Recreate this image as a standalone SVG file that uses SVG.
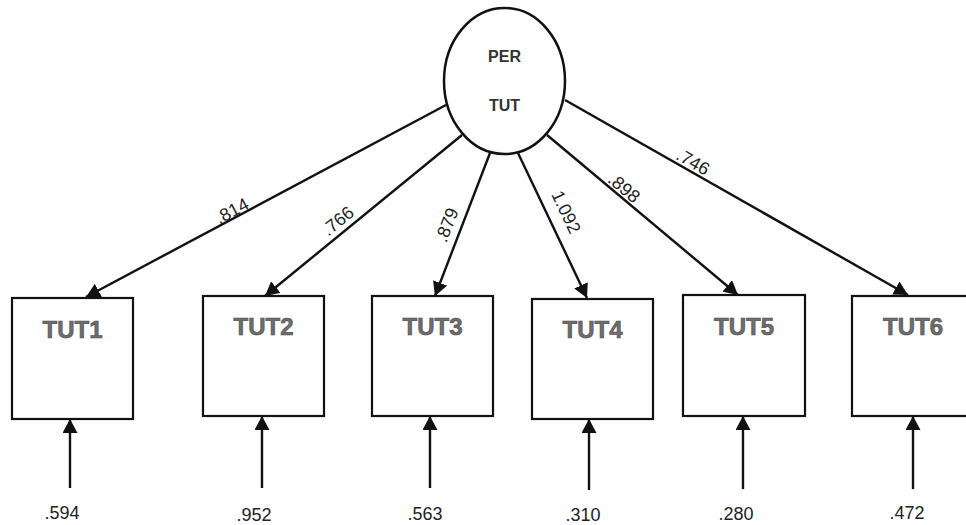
<svg xmlns="http://www.w3.org/2000/svg" width="966" height="525" viewBox="0 0 966 525">
<style>
.box{fill:#fff;stroke:#111;stroke-width:2.2}
.lat{fill:#fff;stroke:#111;stroke-width:2.5}
.lbl{font-family:"Liberation Sans",Arial,sans-serif;font-weight:bold;font-size:24px;fill:#6e6e6e;stroke:#4a4a4a;stroke-width:0.6;text-anchor:middle}
.latl{font-family:"Liberation Sans",Arial,sans-serif;font-weight:bold;font-size:16px;fill:#333;text-anchor:middle}
.num{font-family:"Liberation Sans",Arial,sans-serif;font-size:18px;fill:#222;text-anchor:middle}
.edge{stroke:#111;stroke-width:2.4;fill:none;marker-end:url(#ah)}
</style>
<defs>
<marker id="ah" markerUnits="userSpaceOnUse" markerWidth="15" markerHeight="15" refX="14" refY="7.5" orient="auto">
<path d="M0,0 L14,7.5 L0,15 Z" fill="#111"/>
</marker>
</defs>
<rect width="966" height="525" fill="#fff"/>
<g id="connectors">
<line class="edge" x1="446" y1="105" x2="86" y2="297"/>
<line class="edge" x1="462" y1="135" x2="265" y2="296"/>
<line class="edge" x1="490" y1="153" x2="435" y2="296"/>
<line class="edge" x1="518" y1="153" x2="587" y2="298"/>
<line class="edge" x1="547" y1="135" x2="738" y2="295"/>
<line class="edge" x1="565" y1="100" x2="908" y2="295"/>
<line class="edge" x1="70" y1="488" x2="70" y2="419"/>
<line class="edge" x1="262" y1="488" x2="262" y2="416"/>
<line class="edge" x1="430" y1="488" x2="430" y2="416"/>
<line class="edge" x1="589" y1="490" x2="589" y2="419"/>
<line class="edge" x1="743" y1="489" x2="743" y2="416"/>
<line class="edge" x1="913" y1="489" x2="913" y2="416"/>
</g>
<g id="edge-labels">
<text class="num" transform="translate(232,211) rotate(-28)" x="0" y="6">.814</text>
<text class="num" transform="translate(338,221) rotate(-39)" x="0" y="6">.766</text>
<text class="num" transform="translate(447,225) rotate(-69)" x="0" y="6">.879</text>
<text class="num" transform="translate(566,212) rotate(64.6)" x="0" y="6">1.092</text>
<text class="num" transform="translate(624,188) rotate(40)" x="0" y="6">.898</text>
<text class="num" transform="translate(693,162) rotate(29.6)" x="0" y="6">.746</text>
</g>
<g id="PERTUT">
<ellipse class="lat" cx="504.5" cy="81" rx="60.5" ry="73"/>
<text class="latl" x="504.5" y="62">PER</text>
<text class="latl" x="504.5" y="111">TUT</text>
</g>
<g id="TUT1"><rect class="box" x="12" y="298" width="121" height="121"/><text class="lbl" x="72.5" y="338">TUT1</text></g>
<g id="TUT2"><rect class="box" x="203" y="296" width="121" height="120"/><text class="lbl" x="263.5" y="335">TUT2</text></g>
<g id="TUT3"><rect class="box" x="372" y="296" width="121" height="120"/><text class="lbl" x="432.5" y="335">TUT3</text></g>
<g id="TUT4"><rect class="box" x="532" y="299" width="121" height="120"/><text class="lbl" x="592.5" y="338">TUT4</text></g>
<g id="TUT5"><rect class="box" x="683" y="295" width="122" height="121"/><text class="lbl" x="744" y="335">TUT5</text></g>
<g id="TUT6"><rect class="box" x="852" y="296" width="122" height="120"/><text class="lbl" x="913" y="335">TUT6</text></g>
<g id="errors">
<text class="num" x="62" y="519">.594</text>
<text class="num" x="254" y="521">.952</text>
<text class="num" x="425" y="520">.563</text>
<text class="num" x="583" y="521">.310</text>
<text class="num" x="736" y="520">.280</text>
<text class="num" x="907" y="519">.472</text>
</g>
</svg>
